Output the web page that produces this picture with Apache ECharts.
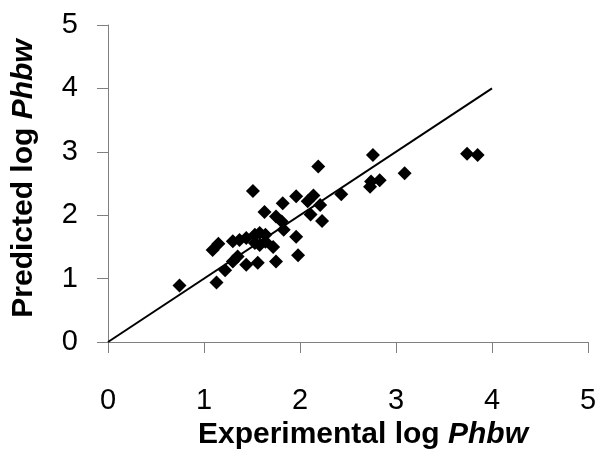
<!DOCTYPE html>
<html>
<head>
<meta charset="utf-8">
<script src="https://cdn.jsdelivr.net/npm/echarts@6/dist/echarts.min.js"></script>
<style>
  html, body { margin: 0; padding: 0; background: #fff; }
  #chart { width: 606px; height: 459px; }
</style>
</head>
<body>
<div id="chart"></div>
<script>
// experimental vs predicted log Phbw
const experimental = [
  0.745, 1.13, 1.09, 1.15, 1.22, 1.30, 1.30, 1.37, 1.35, 1.44,
  1.44, 1.51, 1.53, 1.53, 1.56, 1.58, 1.58, 1.64, 1.64, 1.63,
  1.72, 1.75, 1.75, 1.81, 1.83, 1.82, 1.96, 1.96, 1.98, 2.08,
  2.14, 2.11, 2.19, 2.21, 2.23, 2.43, 2.73, 2.74, 2.76, 2.83,
  3.09, 3.74, 3.85
];
const predicted = [
  0.89, 0.94, 1.45, 1.55, 1.13, 1.27, 1.59, 1.61, 1.35, 1.22,
  1.64, 2.38, 1.69, 1.56, 1.25, 1.72, 1.53, 1.69, 1.58, 2.05,
  1.50, 1.27, 1.98, 1.90, 1.77, 2.19, 2.30, 1.66, 1.37, 2.22,
  2.31, 2.01, 2.77, 2.16, 1.91, 2.33, 2.45, 2.53, 2.95, 2.55,
  2.66, 2.97, 2.95
];
// line of identity
const idealLine = [[0, 0], [4, 4]];
const ticks = [0, 1, 2, 3, 4, 5];

const chart = echarts.init(document.getElementById("chart"));

const axisCommon = {
  type: "value",
  min: ticks[0],
  max: ticks[ticks.length - 1],
  interval: 1,
  splitLine: { show: false },
  axisLine: { lineStyle: { color: "#808080", width: 1 } },
  axisTick: { length: 11, lineStyle: { color: "#808080" } },
  nameLocation: "middle"
};

const titleRich = {
  b: { fontFamily: "Liberation Sans", fontWeight: "bold", fontSize: 30, color: "#000" },
  i: { fontFamily: "Liberation Sans", fontWeight: "bold", fontStyle: "italic", fontSize: 30, color: "#000" }
};

chart.setOption({
  backgroundColor: "#fff",
  animation: false,
  grid: { left: 108, right: 18, top: 25, bottom: 117 },
  xAxis: Object.assign({}, axisCommon, {
    name: "{b|Experimental log }{i|Phbw}",
    nameGap: 75,
    nameTextStyle: { rich: titleRich, padding: [0, 0, 0, 30] },
    axisLabel: { fontFamily: "Liberation Sans", fontSize: 29, color: "#000", margin: 44 }
  }),
  yAxis: Object.assign({}, axisCommon, {
    name: "{b|Predicted log }{i|Phbw}",
    nameGap: 69,
    nameTextStyle: { rich: titleRich, padding: [0, 0, 0, 10] },
    axisLabel: { fontFamily: "Liberation Sans", fontSize: 29, color: "#000", margin: 30 }
  }),
  series: [
    {
      type: "line",
      data: idealLine,
      showSymbol: false,
      lineStyle: { color: "#000", width: 2 },
      z: 1
    },
    {
      type: "scatter",
      data: experimental.map((x, i) => [x, predicted[i]]),
      symbol: "diamond",
      symbolSize: 14,
      itemStyle: { color: "#000", opacity: 1 },
      z: 2
    }
  ]
});
</script>
</body>
</html>
